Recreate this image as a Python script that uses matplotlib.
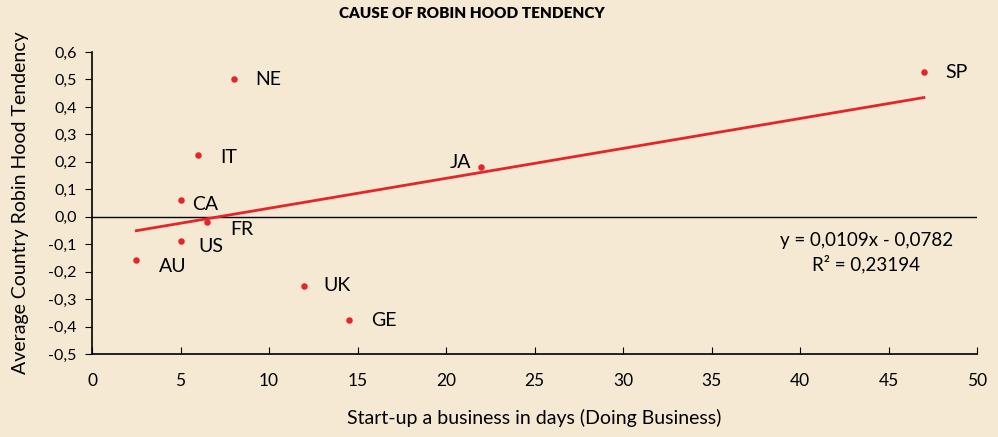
import matplotlib.pyplot as plt
import numpy as np

plt.rcParams["font.family"] = ["Lato", "DejaVu Sans"]

countries = ["NE", "IT", "CA", "FR", "US", "AU", "UK", "GE", "JA", "SP"]
startup_days = [8, 6, 5, 6.5, 5, 2.5, 12, 14.5, 22, 47]
robin_hood = [0.50, 0.225, 0.062, -0.018, -0.087, -0.157, -0.251, -0.375, 0.182, 0.528]

# label offsets in pixels (dx, dy, ha)
offsets = {
    "NE": (22, 0, "left"),
    "IT": (22, -3, "left"),
    "CA": (12, -5, "left"),
    "FR": (23, -8, "left"),
    "US": (18, -6, "left"),
    "AU": (23, -7, "left"),
    "UK": (19, 0, "left"),
    "GE": (22, -1, "left"),
    "JA": (-10, 4, "right"),
    "SP": (21, -1, "left"),
}

slope, intercept = 0.0109, -0.0782
bg = "#f5e9d4"
red = "#e5252a"

fig = plt.figure(figsize=(9.98, 4.37), dpi=100, facecolor=bg)
ax = fig.add_axes([92 / 998, 1 - 354 / 437, 885 / 998, 302 / 437], facecolor=bg)

x = np.array(startup_days)
xs = np.array([x.min(), x.max()])
ax.plot(xs, slope * xs + intercept, color=red, lw=2, zorder=2)
ax.axhline(0, color="black", lw=1, zorder=1)
ax.scatter(x, robin_hood, s=22, color=red, zorder=3, linewidths=0)

for name, xi, yi in zip(countries, startup_days, robin_hood):
    dx, dy, ha = offsets[name]
    ax.annotate(name, (xi, yi), xytext=(dx, dy), textcoords="offset pixels",
                ha=ha, va="center", fontsize=14)

yticks = np.round(np.arange(-0.5, 0.61, 0.1), 1)
ax.set_xlim(0, 50)
ax.set_ylim(-0.5, 0.6)
ax.set_xticks(np.arange(0, 51, 5))
ax.set_yticks(yticks)
ax.set_yticklabels([f"{v:.1f}".replace(".", ",").replace("-0,0", "0,0") for v in yticks])
ax.tick_params(axis="x", direction="in", length=5, labelsize=12.5, pad=14)
ax.tick_params(axis="y", direction="out", length=5, labelsize=11.5, pad=6)
for s in ["top", "right"]:
    ax.spines[s].set_visible(False)
for s in ["left", "bottom"]:
    ax.spines[s].set_linewidth(1.2)

ax.set_xlabel("Start-up a business in days (Doing Business)", fontsize=14, labelpad=14)
ax.set_ylabel("Average Country Robin Hood Tendency", fontsize=14, labelpad=14)
fig.text(472 / 998, 1 - 13 / 437, "CAUSE OF ROBIN HOOD TENDENCY", ha="center",
         va="center", fontsize=11, fontweight="heavy")

ax.text(0.875, 0.335, "y = 0,0109x - 0,0782\nR² = 0,23194", transform=ax.transAxes,
        ha="center", va="center", fontsize=13.5, linespacing=1.35)

fig.savefig("out.png", dpi=100, facecolor=bg)
